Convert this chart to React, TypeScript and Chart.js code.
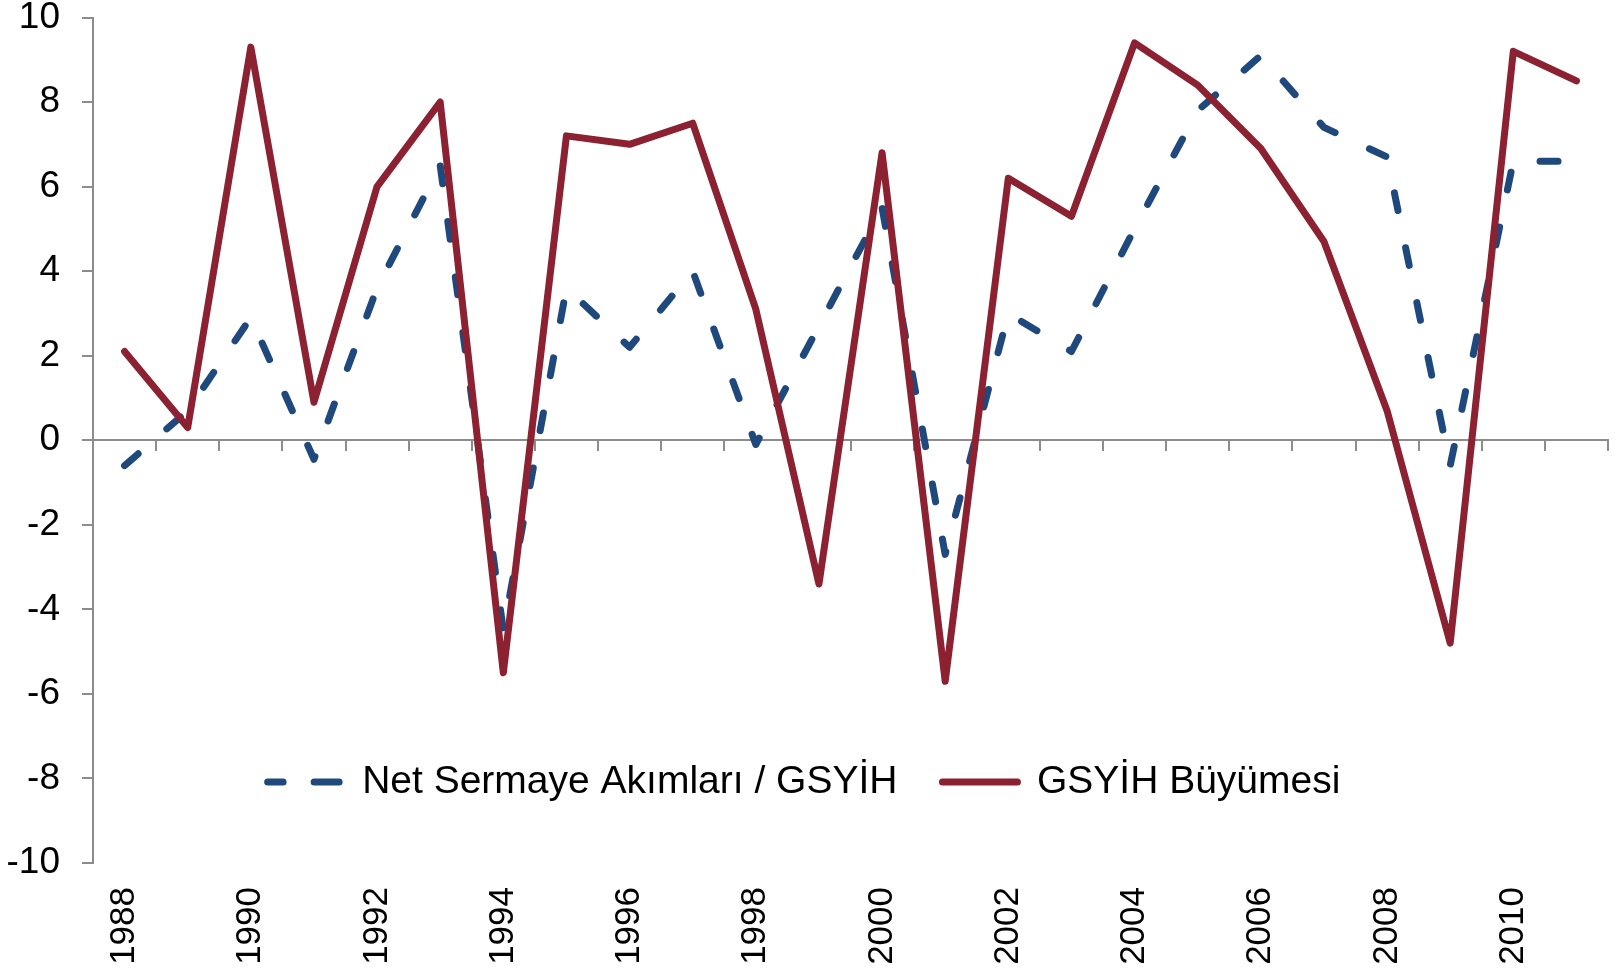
import React, { useEffect, useRef } from 'react';
import { Chart, registerables } from 'chart.js';

Chart.register(...registerables);

// ---- data ----
const years = [
  '1988', '1989', '1990', '1991', '1992', '1993', '1994', '1995', '1996', '1997', '1998', '1999',
  '2000', '2001', '2002', '2003', '2004', '2005', '2006', '2007', '2008', '2009', '2010', '2011',
];
const shownYearLabels = ['1988', '1990', '1992', '1994', '1996', '1998', '2000', '2002', '2004', '2006', '2008', '2010'];
const netCapitalFlows = [
  -0.6, 0.7, 2.9, -0.45, 3.6, 6.5, -4.5, 3.6, 2.2, 4.0, -0.1, 2.7,
  5.5, -2.7, 3.0, 2.1, 5.0, 7.8, 9.1, 7.4, 6.7, -0.6, 6.6, 6.6,
];
const gdpGrowth = [
  2.1, 0.3, 9.3, 0.9, 6.0, 8.0, -5.5, 7.2, 7.0, 7.5, 3.1, -3.4,
  6.8, -5.7, 6.2, 5.3, 9.4, 8.4, 6.9, 4.7, 0.7, -4.8, 9.2, 8.5,
];
const seriesNames = ['Net Sermaye Akımları / GSYİH', 'GSYİH Büyümesi'];
const yMin = -10;
const yMax = 10;
const yStep = 2;

// ---- styles ----
const FONT = "'Liberation Sans', Arial, Helvetica, sans-serif";
const AXIS_GRAY = '#8c8c8c';
const BLUE = '#1F497D';
const RED = '#8B2131';
const LEGEND_FONT = 39;
const LEGEND_PAD = 45;
const LEGEND_CENTER_Y = 782;
const legendDashes = [[25, 31], []];
const legendDashOffsets = [9.5, 0];

const legendPlacer = {
  id: 'legendPlacer',
  afterLayout(chart: any) {
    const lg = chart.legend;
    if (!lg) return;
    const h = LEGEND_FONT + 2 * LEGEND_PAD;
    lg.top = LEGEND_CENTER_Y - LEGEND_PAD - LEGEND_FONT / 2;
    lg.bottom = lg.top + h;
    lg.height = h;
  },
};

export default function App() {
  const ref = useRef<HTMLCanvasElement>(null);

  useEffect(() => {
    if (!ref.current) return;
    Chart.defaults.font.family = FONT;
    Chart.defaults.color = '#000';

    const chart = new Chart(ref.current, {
      type: 'line',
      data: {
        labels: years,
        datasets: [
          {
            label: seriesNames[0],
            data: netCapitalFlows,
            borderColor: BLUE,
            backgroundColor: BLUE,
            borderWidth: 7,
            borderDash: [18, 38],
            borderCapStyle: 'round',
            borderJoinStyle: 'round',
            pointRadius: 0,
            pointHoverRadius: 0,
            tension: 0,
            fill: false,
            order: 2,
          },
          {
            label: seriesNames[1],
            data: gdpGrowth,
            borderColor: RED,
            backgroundColor: RED,
            borderWidth: 7,
            borderCapStyle: 'round',
            borderJoinStyle: 'round',
            pointRadius: 0,
            pointHoverRadius: 0,
            tension: 0,
            fill: false,
            order: 1,
          },
        ],
      },
      options: {
        animation: false,
        responsive: true,
        maintainAspectRatio: false,
        layout: { padding: { top: 17.5, right: 11, bottom: 0, left: 0 } },
        plugins: {
          tooltip: { enabled: false },
          title: { display: false },
          legend: {
            display: true,
            position: 'top',
            align: 'center',
            maxHeight: 0.01,
            labels: {
              usePointStyle: true,
              pointStyle: 'line',
              pointStyleWidth: 75,
              padding: LEGEND_PAD,
              color: '#000',
              font: { size: LEGEND_FONT, family: FONT },
              generateLabels: (c: any) =>
                c.data.datasets.map((ds: any, i: number) => ({
                  text: ds.label,
                  fillStyle: ds.borderColor,
                  strokeStyle: ds.borderColor,
                  lineWidth: 7,
                  lineDash: legendDashes[i],
                  lineDashOffset: legendDashOffsets[i],
                  lineCap: 'round',
                  lineJoin: 'round',
                  pointStyle: 'line',
                  rotation: 0,
                  hidden: false,
                  datasetIndex: i,
                  fontColor: '#000',
                })),
            },
          },
        },
        scales: {
          x: {
            type: 'category',
            position: 'bottom',
            offset: true,
            grid: { display: false, drawTicks: false, offset: true },
            border: { display: false },
            ticks: {
              autoSkip: false,
              minRotation: 90,
              maxRotation: 90,
              padding: 24,
              color: '#000',
              font: { size: 35, family: FONT },
              callback: (_v: any, index: number) =>
                shownYearLabels.includes(years[index]) ? years[index] : '',
            },
            afterFit: (s: any) => {
              s.height = 106;
              s.paddingLeft = 0;
              s.paddingRight = 0;
            },
          },
          x0: {
            type: 'category',
            position: { y: 0 },
            offset: true,
            grid: {
              display: true,
              drawOnChartArea: false,
              drawTicks: true,
              tickLength: 10,
              color: AXIS_GRAY,
              lineWidth: 2,
              offset: true,
            },
            border: { display: true, color: AXIS_GRAY, width: 2 },
            ticks: { display: false },
            afterFit: (s: any) => {
              s.height = 0;
              s.paddingLeft = 0;
              s.paddingRight = 0;
              s.paddingTop = 0;
              s.paddingBottom = 0;
            },
          },
          y: {
            type: 'linear',
            position: 'left',
            min: yMin,
            max: yMax,
            grid: {
              display: true,
              drawOnChartArea: false,
              drawTicks: true,
              tickLength: 11,
              color: AXIS_GRAY,
              lineWidth: 2,
            },
            border: { display: true, color: AXIS_GRAY, width: 2 },
            ticks: {
              stepSize: yStep,
              autoSkip: false,
              padding: 22,
              color: '#000',
              font: { size: 37, family: FONT },
            },
            afterFit: (s: any) => {
              s.width = 93;
              s.paddingTop = 0;
              s.paddingBottom = 0;
            },
          },
        },
      } as any,
      plugins: [legendPlacer],
    });

    return () => chart.destroy();
  }, []);

  return (
    <div style={{ position: 'fixed', left: 0, top: 0, width: 1619, height: 969, background: '#fff' }}>
      <canvas ref={ref} />
    </div>
  );
}
